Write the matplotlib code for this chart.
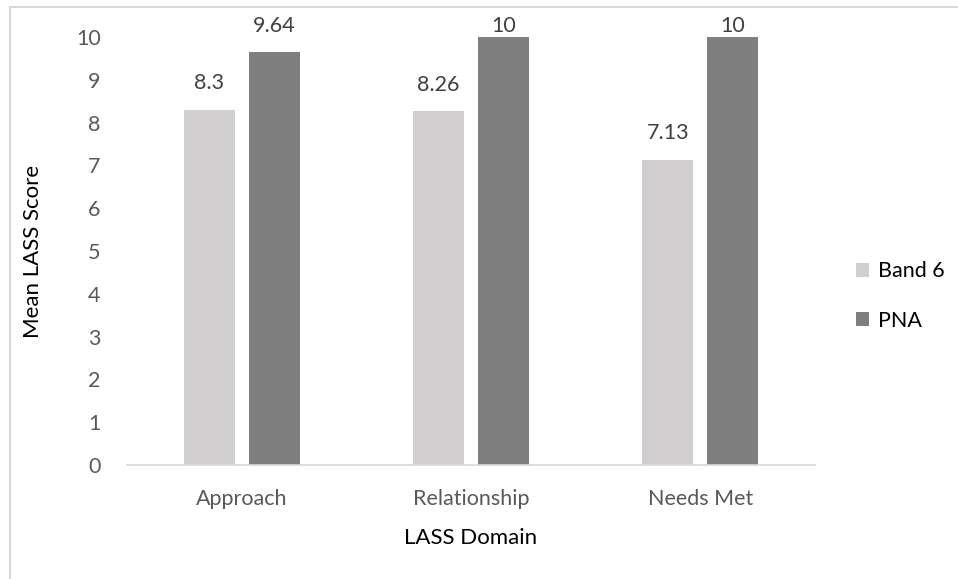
import numpy as np
import matplotlib
matplotlib.use('Agg')
import matplotlib.pyplot as plt
from matplotlib.patches import Rectangle

plt.rcParams['font.family'] = ['Lato', 'DejaVu Sans']

domains = ['Approach', 'Relationship', 'Needs Met']
band6 = [8.3, 8.26, 7.13]
pna = [9.64, 10, 10]
band6_labels = ['8.3', '8.26', '7.13']
pna_labels = ['9.64', '10', '10']

fig = plt.figure(figsize=(9.58, 5.79), dpi=100)
ax = fig.add_axes([0.1326, 0.1969, 0.7181, 0.7392])

x = np.arange(len(domains))
w = 0.223
off = 0.142
b1 = ax.bar(x - off, band6, w, color='#D0CECE', label='Band 6')
b2 = ax.bar(x + off, pna, w, color='#7F7F7F', label='PNA')

ax.set_xlim(-0.5, 2.5)
ax.set_ylim(0, 10)

# labels sit above the bars, but are kept inside the chart area (like Excel)
top_px = fig.bbox.height - 36
for bars, labs in ((b1, band6_labels), (b2, pna_labels)):
    for r, lab in zip(bars, labs):
        xc = r.get_x() + r.get_width() / 2
        bar_top = ax.transData.transform((xc, r.get_height()))[1]
        gap = min(12.0, max(1.0, (top_px - bar_top) * 0.72))
        ax.annotate(lab, (xc, r.get_height()),
                    xytext=(0, gap), textcoords='offset points',
                    ha='center', va='bottom', fontsize=15.5, color='#404040')

ax.set_yticks(range(0, 11))
ax.set_xticks(x)
ax.set_xticklabels(domains)
ax.tick_params(axis='both', length=0, labelsize=15.5, labelcolor='#595959')
ax.tick_params(axis='x', pad=17)
ax.tick_params(axis='y', pad=19)
for s in ('top', 'right', 'left'):
    ax.spines[s].set_visible(False)
ax.spines['bottom'].set_color('#D9D9D9')
ax.spines['bottom'].set_linewidth(1.2)

ax.set_xlabel('LASS Domain', fontsize=16, labelpad=14)
ax.set_ylabel('Mean LASS Score', fontsize=16, labelpad=24)

ax.legend(loc='center left', bbox_to_anchor=(847 / 958, 1 - 296 / 579),
          bbox_transform=fig.transFigure, frameon=False,
          fontsize=15.5, handlelength=0.6, handleheight=0.6, handletextpad=0.45,
          labelspacing=1.35, borderaxespad=0.0)

# chart area border
fig.patches.append(Rectangle((10 / 958, -0.05), 1.1, (579 - 7) / 579 + 0.05,
                             transform=fig.transFigure, fill=False,
                             edgecolor='#D9D9D9', linewidth=1.5))

fig.savefig('out.png', dpi=100)
